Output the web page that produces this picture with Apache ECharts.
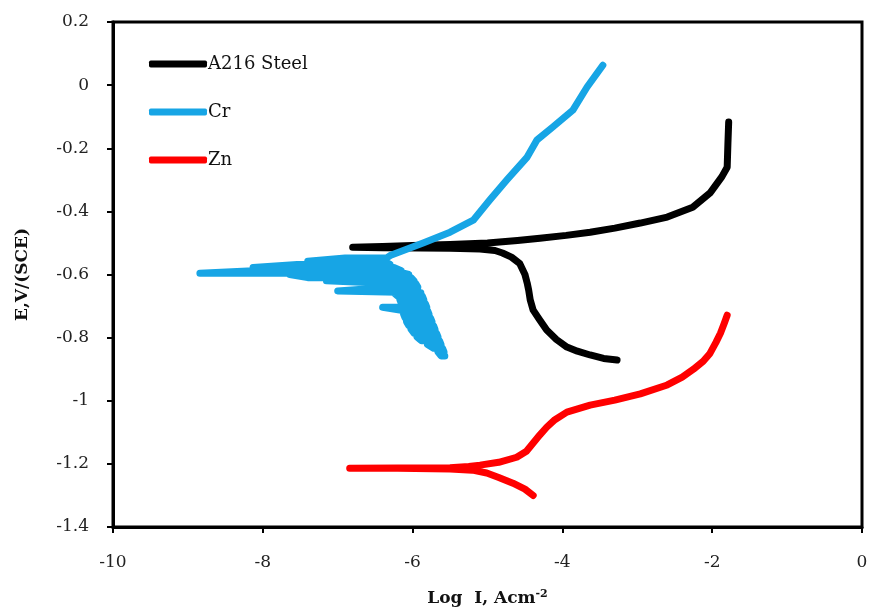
<!DOCTYPE html>
<html>
<head>
<meta charset="utf-8">
<script src="https://cdn.jsdelivr.net/npm/echarts@6/dist/echarts.min.js"></script>
<style>
  html, body { margin: 0; padding: 0; background: #fff; }
  #chart { width: 871px; height: 613px; }
</style>
</head>
<body>
<div id="chart"></div>
<script>
// axis ticks
var xTicks = [-10, -8, -6, -4, -2, 0];
var yTicks = [-1.4, -1.2, -1, -0.8, -0.6, -0.4, -0.2, 0, 0.2];

var seriesNames = ['A216 Steel', 'Cr', 'Zn'];

// A216 Steel: cathodic end -> Ecorr dip -> anodic end
var steelLogI = [-3.27, -3.45, -3.63, -3.80, -3.94, -4.08, -4.21, -4.30, -4.39, -4.43, -4.45, -4.47, -4.50, -4.57, -4.68, -4.80, -4.90,
  -5.10, -5.50, -5.90, -6.40, -6.80, -6.40, -6.00, -5.50, -5.00, -4.60, -4.30, -3.95, -3.63, -3.30, -2.96, -2.60, -2.26, -2.03, -1.87, -1.80, -1.79, -1.78];
var steelE = [-0.871, -0.866, -0.855, -0.843, -0.830, -0.806, -0.776, -0.745, -0.713, -0.680, -0.650, -0.627, -0.600, -0.565, -0.545, -0.532, -0.524,
  -0.519, -0.517, -0.516, -0.515, -0.514, -0.511, -0.508, -0.505, -0.500, -0.492, -0.485, -0.476, -0.466, -0.453, -0.437, -0.418, -0.387, -0.342, -0.290, -0.260, -0.184, -0.117];

// Cr cathodic region is very noisy: potential levels with the min / max log I swept at each level
var crNoiseE = [-0.858, -0.846, -0.834, -0.822, -0.810, -0.798, -0.786, -0.774, -0.762, -0.750, -0.738, -0.726, -0.714, -0.704, -0.692,
  -0.680, -0.668, -0.658, -0.652, -0.640, -0.628, -0.620, -0.610, -0.600, -0.596, -0.588, -0.578, -0.568, -0.558, -0.548];
var crNoiseMinLogI = [-5.62, -5.66, -5.72, -5.80, -5.88, -5.94, -5.98, -6.02, -6.05, -6.08, -6.10, -6.12, -6.13, -6.40, -6.15,
  -6.17, -6.20, -6.25, -7.00, -6.30, -6.40, -7.15, -7.40, -7.64, -8.84, -8.13, -8.13, -7.54, -7.40, -6.90];
var crNoiseMaxLogI = [-5.57, -5.58, -5.60, -5.62, -5.64, -5.66, -5.68, -5.70, -5.72, -5.74, -5.76, -5.78, -5.80, -5.81, -5.83,
  -5.85, -5.87, -5.89, -5.90, -5.93, -5.96, -5.98, -6.02, -6.05, -6.12, -6.15, -6.25, -6.30, -6.38, -6.35];

// Cr anodic branch
var crAnodicLogI = [-6.30, -5.86, -5.50, -5.19, -4.97, -4.74, -4.47, -4.34, -4.13, -3.86, -3.67, -3.46];
var crAnodicE = [-0.540, -0.500, -0.466, -0.428, -0.364, -0.300, -0.228, -0.174, -0.133, -0.079, -0.006, 0.063];

// Zn
var znLogI = [-4.39, -4.50, -4.66, -4.85, -5.01, -5.20, -5.50, -6.20, -6.84, -6.20, -5.50, -5.25, -5.10, -4.85, -4.61, -4.48, -4.39, -4.30, -4.21,
  -4.10, -3.94, -3.63, -3.30, -2.96, -2.60, -2.40, -2.25, -2.12, -2.03, -1.95, -1.89, -1.84, -1.80];
var znE = [-1.300, -1.280, -1.261, -1.243, -1.229, -1.220, -1.216, -1.214, -1.214, -1.213, -1.212, -1.208, -1.204, -1.195, -1.179, -1.160, -1.134, -1.108, -1.084,
  -1.060, -1.036, -1.014, -0.998, -0.978, -0.950, -0.925, -0.900, -0.875, -0.850, -0.815, -0.786, -0.755, -0.729];

var colors = ['#000000', '#17a5e5', '#ff0000'];

function pairs(xs, ys) {
  return xs.map(function (x, i) { return [x, ys[i]]; });
}

// walk the noisy levels back and forth, then continue into the anodic branch
function crPoints() {
  var pts = [];
  crNoiseE.forEach(function (e, i) {
    if (i % 2 === 0) {
      pts.push([crNoiseMaxLogI[i], e], [crNoiseMinLogI[i], e]);
    } else {
      pts.push([crNoiseMinLogI[i], e], [crNoiseMaxLogI[i], e]);
    }
  });
  return pts.concat(pairs(crAnodicLogI, crAnodicE));
}

var chart = echarts.init(document.getElementById('chart'));

var font = 'DejaVu Serif';

function curve(name, data, color) {
  return {
    name: name,
    type: 'line',
    data: data,
    showSymbol: false,
    symbol: 'none',
    smooth: false,
    animation: false,
    lineStyle: { color: color, width: 7, cap: 'round', join: 'round' },
    itemStyle: { color: color }
  };
}

var option = {
  backgroundColor: '#fff',
  animation: false,
  grid: {
    left: 113, right: 9, top: 22, bottom: 86,
    show: true, borderColor: '#000', borderWidth: 3
  },
  legend: {
    orient: 'vertical',
    left: 144, top: 49,
    itemWidth: 58, itemHeight: 7,
    itemGap: 28,
    icon: 'roundRect',
    data: seriesNames,
    textStyle: { fontFamily: font, fontSize: 18, color: '#111', lineHeight: 20, padding: [0, 0, 0, -4] }
  },
  xAxis: {
    type: 'value',
    min: xTicks[0], max: xTicks[xTicks.length - 1], interval: 2,
    name: 'Log  I, Acm{sup|-2}',
    nameLocation: 'middle',
    nameGap: 62,
    nameTextStyle: {
      fontFamily: font, fontWeight: 'bold', fontSize: 17, color: '#111',
      rich: { sup: { fontFamily: font, fontWeight: 'bold', fontSize: 11, color: '#111', verticalAlign: 'top', padding: [0, 0, 8, 0] } }
    },
    splitLine: { show: false },
    axisLine: { onZero: false, lineStyle: { color: '#000', width: 3 } },
    axisTick: { inside: false, length: 6, lineStyle: { color: '#000', width: 2 } },
    axisLabel: { fontFamily: font, fontSize: 17, color: '#222', margin: 27 }
  },
  yAxis: {
    type: 'value',
    min: yTicks[0], max: yTicks[yTicks.length - 1], interval: 0.2,
    name: 'E,V/(SCE)',
    nameLocation: 'middle',
    nameGap: 82,
    nameRotate: 90,
    nameTextStyle: { fontFamily: font, fontWeight: 'bold', fontSize: 17, color: '#111' },
    splitLine: { show: false },
    axisLine: { onZero: false, lineStyle: { color: '#000', width: 3 } },
    axisTick: { inside: false, length: 6, lineStyle: { color: '#000', width: 2 } },
    axisLabel: { fontFamily: font, fontSize: 17, color: '#222', margin: 24 }
  },
  series: [
    curve(seriesNames[0], pairs(steelLogI, steelE), colors[0]),
    curve(seriesNames[1], crPoints(), colors[1]),
    curve(seriesNames[2], pairs(znLogI, znE), colors[2])
  ]
};

chart.setOption(option);
</script>
</body>
</html>
